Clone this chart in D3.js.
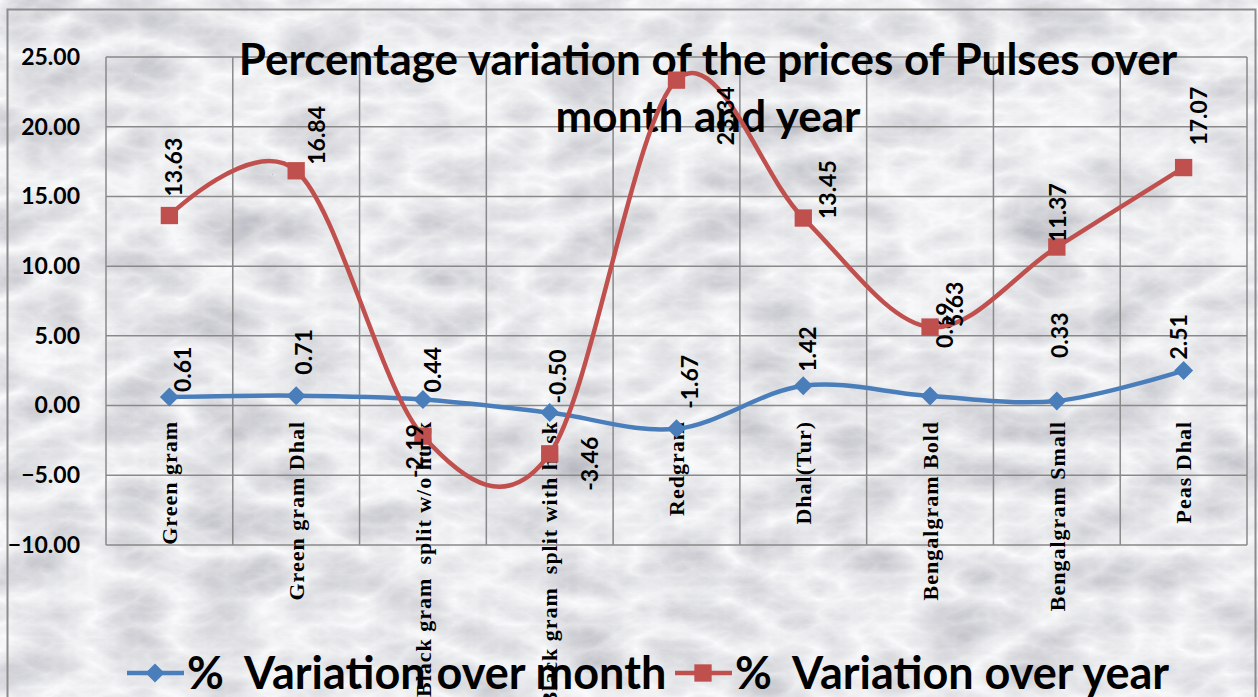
<!DOCTYPE html>
<html>
<head>
<meta charset="utf-8">
<title>Pulses price variation</title>
<script src="https://cdnjs.cloudflare.com/ajax/libs/d3/7.8.5/d3.min.js"></script>
<style>
  html, body { margin: 0; padding: 0; background: #fff; }
  svg { display: block; }
  .sans { font-family: Lato, "Open Sans", sans-serif; font-weight: bold; fill: #000; }
  .cat { font-family: "Liberation Serif", "Times New Roman", serif; font-weight: bold; fill: #000; white-space: pre; }
  .pre { white-space: pre; }
</style>
</head>
<body>
<svg id="chart" width="1258" height="697"></svg>
<script>

// data
var categories = ["Green gram", "Green gram Dhal", "Black gram  split w/o husk", "Black gram  split with husk",
                  "Redgram", "Dhal(Tur)", "Bengalgram Bold", "Bengalgram Small", "Peas Dhal"];
var overMonth = [0.61, 0.71, 0.44, -0.50, -1.67, 1.42, 0.69, 0.33, 2.51];
var overYear = [13.63, 16.84, -2.19, -3.46, 23.34, 13.45, 5.63, 11.37, 17.07];
var yTicks = [-10, -5, 0, 5, 10, 15, 20, 25];
var seriesNames = ["%  Variation over month", "%  Variation over year"];

// where the data labels sit relative to their point (px), as placed in the original
var monthLabelShift = [[14,-5],[8,-21],[10,-7],[8,-9],[13,-20],[5,-14],[15,-48],[3,-43],[-5,-11]];
var yearLabelShift = [[5,-19],[21,-6],[-8,42],[40,37],[49,65],[25,1],[25,0],[1,-5],[15,-22]];

var blue = "#4a7ebb", red = "#c0504d";

var svg = d3.select("#chart");
var W = 1258, H = 697;

// marble-ish background
var defs = svg.append("defs");
var f = defs.append("filter").attr("id", "marble")
    .attr("x", 0).attr("y", 0).attr("width", "100%").attr("height", "100%");
f.append("feTurbulence").attr("type", "turbulence")
    .attr("baseFrequency", "0.011 0.02").attr("numOctaves", 5).attr("seed", 11);
f.append("feColorMatrix").attr("type", "matrix")
    .attr("values", "-0.5 0 0 0 0.97  -0.5 0 0 0 0.975  -0.46 0 0 0 0.985  0 0 0 0 1");

svg.append("rect").attr("width", W).attr("height", H).attr("fill", "#fff").attr("filter", "url(#marble)");
svg.append("rect").attr("x", 7.5).attr("y", 9.5).attr("width", 1248).attr("height", 720)
    .attr("fill", "none").attr("stroke", "#8c8c8c").attr("stroke-width", 2);

var plot = { left: 106, right: 1247, top: 57, bottom: 545 };

var x = d3.scaleBand().domain(categories).range([plot.left, plot.right]).padding(0);
var y = d3.scaleLinear().domain([-10, 25]).range([plot.bottom, plot.top]);
var cx = function(i) { return x(categories[i]) + x.bandwidth() / 2; };

// grid
var grid = svg.append("g").attr("stroke", "#898989").attr("stroke-width", 1.5);
grid.selectAll("line.h").data(yTicks).enter().append("line")
    .attr("x1", plot.left).attr("x2", plot.right)
    .attr("y1", function(d) { return y(d); }).attr("y2", function(d) { return y(d); });
var bounds = categories.map(function(c) { return x(c); }).concat([plot.right]);
grid.selectAll("line.v").data(bounds).enter().append("line")
    .attr("y1", plot.top).attr("y2", plot.bottom)
    .attr("x1", function(d) { return d; }).attr("x2", function(d) { return d; });

// y axis labels
var yAxis = d3.axisLeft(y).tickValues(yTicks).tickFormat(d3.format(".2f")).tickSize(0).tickPadding(0);
var ya = svg.append("g").attr("transform", "translate(80,0)").call(yAxis);
ya.select(".domain").remove();
ya.selectAll("text").attr("class", "sans").style("font-size", "23px").attr("fill", "#000");

// title
var title = svg.append("text").attr("class", "sans").attr("text-anchor", "middle").style("font-size", "44px");
title.append("tspan").attr("x", 708).attr("y", 75).text("Percentage variation of the prices of Pulses over");
title.append("tspan").attr("x", 708).attr("y", 132).text("month and year");

// category labels, vertical
svg.append("g").selectAll("text").data(categories).enter().append("text")
    .attr("class", "cat")
    .style("font-size", "22px").style("letter-spacing", "1px")
    .attr("text-anchor", "end")
    .attr("transform", function(d, i) { return "translate(" + cx(i) + ",421) rotate(-90)"; })
    .attr("dy", "0.35em")
    .text(function(d) { return d; });

var line = d3.line()
    .x(function(d, i) { return cx(i); })
    .y(function(d) { return y(d); })
    .curve(d3.curveCardinal.tension(0));

function drawSeries(vals, color, marker, shifts) {
  var g = svg.append("g");
  g.append("path").datum(vals).attr("d", line)
      .attr("fill", "none").attr("stroke", color).attr("stroke-width", 4.5);
  g.selectAll("path.m").data(vals).enter().append("path")
      .attr("d", marker)
      .attr("fill", color)
      .attr("transform", function(d, i) { return "translate(" + cx(i) + "," + y(d) + ")"; });
  g.selectAll("text").data(vals).enter().append("text")
      .attr("class", "sans").style("font-size", "23px")
      .attr("transform", function(d, i) {
        return "translate(" + (cx(i) + shifts[i][0]) + "," + (y(d) + shifts[i][1]) + ") rotate(-90)";
      })
      .attr("dy", "0.35em")
      .text(function(d) { return d3.format(".2f")(d).replace("−", "-"); });
}

var diamond = d3.symbol().type(d3.symbolDiamond2).size(230)();
var square = d3.symbol().type(d3.symbolSquare).size(300)();

drawSeries(overMonth, blue, diamond, monthLabelShift);
drawSeries(overYear, red, square, yearLabelShift);

// legend
var legend = [
  { name: seriesNames[0], color: blue, marker: diamond, x: 127 },
  { name: seriesNames[1], color: red, marker: square, x: 675 }
];
var lg = svg.append("g").selectAll("g").data(legend).enter().append("g")
    .attr("transform", function(d) { return "translate(" + d.x + ",673)"; });
lg.append("line").attr("x1", 0).attr("x2", 57).attr("stroke", function(d) { return d.color; }).attr("stroke-width", 4.5);
lg.append("path").attr("d", function(d) { return d.marker; }).attr("fill", function(d) { return d.color; })
    .attr("transform", "translate(28,0)");
lg.append("text").attr("class", "sans pre").attr("x", 60).attr("y", 16)
    .style("font-size", "45px").text(function(d) { return d.name; });

</script>
</body>
</html>
